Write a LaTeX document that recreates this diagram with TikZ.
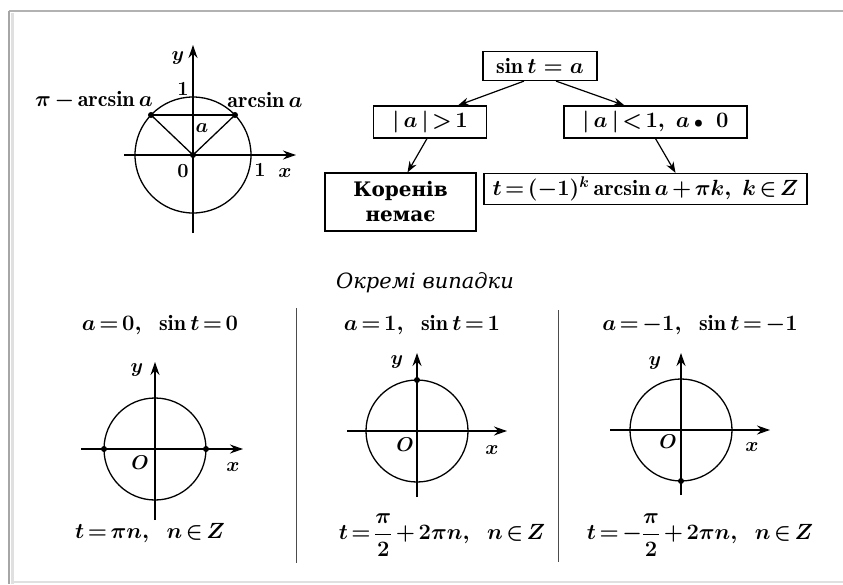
\documentclass[tikz,border=0pt]{standalone}
\usepackage{fix-cm}
\usepackage{amsmath,amssymb}
\usepackage{fontspec}
\newfontfamily\cyr{DejaVu Serif}
\usetikzlibrary{arrows.meta}
\newcommand\tightmath{\thickmuskip=2.5mu plus 1mu\medmuskip=2.5mu plus 1mu}
\begin{document}
\begin{tikzpicture}[x=1pt,y=-1pt,
  lbl/.style={font=\boldmath\fontsize{22}{26}\selectfont\tightmath, inner sep=0pt},
  sml/.style={font=\boldmath\fontsize{20}{24}\selectfont, inner sep=0pt},
  ax/.style={line width=1.2pt,-{Stealth[length=13pt,width=9pt]}},
  circ/.style={line width=1.3pt},
  box/.style={draw,line width=1.2pt, inner sep=0pt, align=center, font=\boldmath\fontsize{22}{26}\selectfont\tightmath},
  arr/.style={line width=1.2pt,-{Stealth[length=11pt,width=8pt]}},
  sep/.style={line width=0.9pt, black!70}]
\useasboundingbox (0,0) rectangle (843,584);
% frame
\draw[black!30, line width=1.2pt] (9,11) -- (843,11);
\draw[black!35, line width=2pt] (9,11) -- (9,584);
\draw[black!12, line width=3pt] (12,13) -- (12,584);
\draw[black!12, line width=1.2pt] (12,582) -- (843,582);

% top-left circle
\coordinate (O1) at (193,155);
\coordinate (P1) at (151,115);
\coordinate (Q1) at (235,115);
\draw[circ] (O1) circle[radius=58pt];
\draw[ax] (124,155) -- (296,155);
\draw[ax] (193,233) -- (193,45);
\draw[circ] (P1) -- (Q1);
\draw[circ] (P1) -- (O1) -- (Q1);
\fill (P1) circle[radius=3pt];
\fill (Q1) circle[radius=3pt];
\fill (O1) circle[radius=3pt];
\node[sml] (y1) at (178,58) {$y$};
\node[sml] (one1) at (183,89) {$1$};
\node[lbl] (pia) at (94,100) {$\pi-\arcsin a$};
\node[lbl] (asa) at (265,100) {$\arcsin a$};
\node[sml] (a1) at (202,128) {$a$};
\node[sml] (zero1) at (183,171) {$0$};
\node[sml] (onex) at (260,170) {$1$};
\node[sml] (x1) at (285,173) {$x$};

% tree
\node[box, minimum width=114pt, minimum height=29pt] (sin) at (540,66) {$\sin t\;=\;a$};
\node[box, minimum width=113pt, minimum height=32pt] (gt) at (430,122) {$|\,a\,|>1$};
\node[box, minimum width=183pt, minimum height=32pt] (lt) at (655.5,122) {$|\,a\,|<1,\ a\,{\scriptstyle\bullet}\ \ 0$};
\node[box, minimum width=151pt, minimum height=58pt, font=\cyr\bfseries\fontsize{20}{25}\selectfont] (kor) at (400.5,202) {Коренів\\немає};
\node[box, minimum width=323pt, minimum height=31pt] (sol) at (645.5,189) {$t=(-1)^k\arcsin a+\pi k,\ k\in Z$};
\draw[arr] ([xshift=-16pt]sin.south) -- ([xshift=28pt]gt.north);
\draw[arr] ([xshift=16pt]sin.south) -- ([xshift=-31pt]lt.north);
\draw[arr] ([xshift=-3pt]gt.south) -- ([xshift=7pt]kor.north);
\draw[arr] ([xshift=0pt]lt.south) -- ([xshift=30pt]sol.north);

% special cases
\node[inner sep=0pt, font=\cyr\itshape\fontsize{21}{25}\selectfont] (ok) at (425,283) {Окремі випадки};
\draw[sep] (296,308) -- (296,563);
\draw[sep] (558,310) -- (558,562);

% case a=0
\node[lbl] (t1) at (160,325) {$a=0,\ \ \sin t=0$};
\coordinate (O2) at (155,449);
\draw[circ] (O2) circle[radius=51pt];
\draw[ax] (81,449) -- (243,449);
\draw[ax] (155,520) -- (155,362);
\fill (104,449) circle[radius=3pt];
\fill (206,449) circle[radius=3pt];
\node[sml] (y2) at (137,370) {$y$};
\node[sml] (o2) at (140,463) {$O$};
\node[sml] (x2) at (233,467) {$x$};
\node[lbl] (f1) at (150,533) {$t=\pi n,\ \ n\in Z$};

% case a=1
\node[lbl] (t2) at (422,325) {$a=1,\ \ \sin t=1$};
\coordinate (O3) at (417,431);
\draw[circ] (O3) circle[radius=51pt];
\draw[ax] (347,431) -- (507,431);
\draw[ax] (417,497) -- (417,353);
\fill (417,380) circle[radius=3pt];
\node[sml] (y3) at (397,362) {$y$};
\node[sml] (o3) at (405,445) {$O$};
\node[sml] (x3) at (492,450) {$x$};
\node[lbl] (f2) at (442,535) {$t=\dfrac{\pi}{2}+2\pi n,\ \ n\in Z$};

% case a=-1
\node[lbl] (t3) at (700,325) {$a=-1,\ \ \sin t=-1$};
\coordinate (O4) at (681,430);
\draw[circ] (O4) circle[radius=51pt];
\draw[ax] (610,430) -- (770,430);
\draw[ax] (681,495) -- (681,353);
\fill (681,481) circle[radius=3pt];
\node[sml] (y4) at (655,363) {$y$};
\node[sml] (o4) at (668,442) {$O$};
\node[sml] (x4) at (752,447) {$x$};
\node[lbl] (f3) at (700,535) {$t=-\dfrac{\pi}{2}+2\pi n,\ \ n\in Z$};
\end{tikzpicture}
\end{document}
